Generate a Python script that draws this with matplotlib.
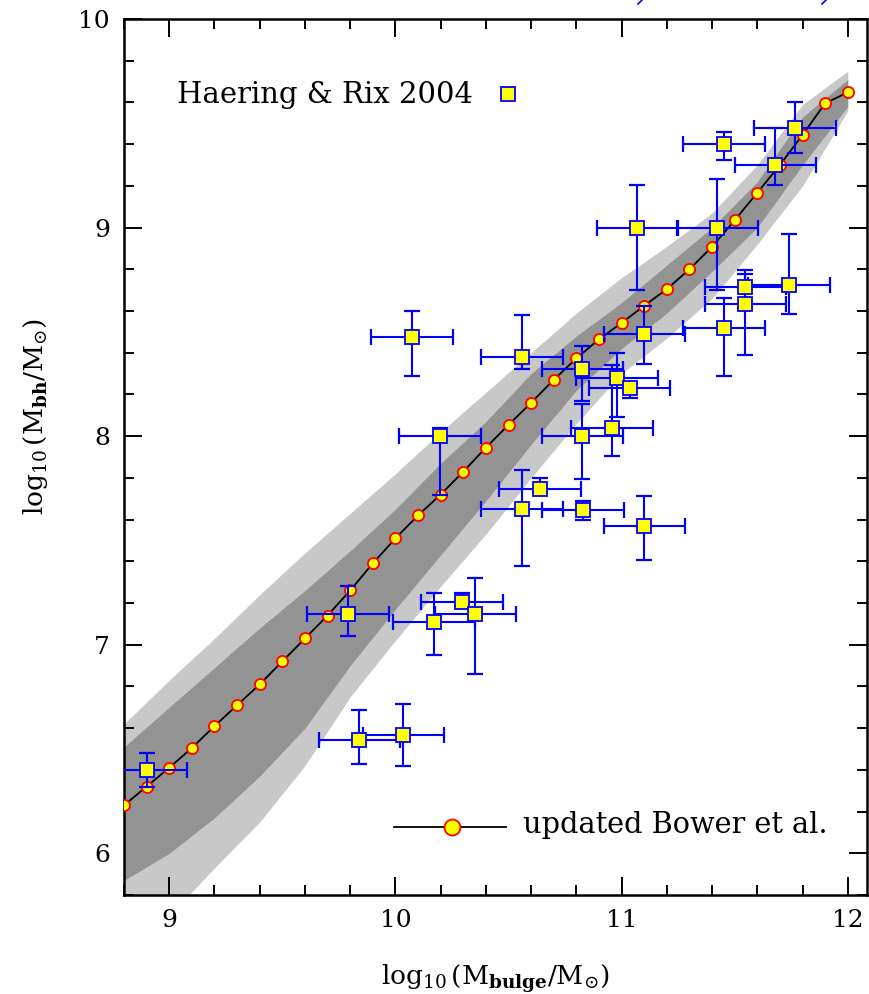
import matplotlib
matplotlib.use("Agg")
import matplotlib.pyplot as plt
from matplotlib.lines import Line2D
from matplotlib.ticker import MultipleLocator

# model: updated Bower et al. (median relation)
model_x = [8.8, 8.9, 9.0, 9.1, 9.2, 9.3, 9.4, 9.5, 9.6, 9.7, 9.8, 9.9, 10.0,
           10.1, 10.2, 10.3, 10.4, 10.5, 10.6, 10.7, 10.8, 10.9, 11.0, 11.1,
           11.2, 11.3, 11.4, 11.5, 11.6, 11.7, 11.8, 11.9, 12.0]
model_y = [6.23, 6.32, 6.41, 6.505, 6.61, 6.71, 6.81, 6.92, 7.03, 7.14, 7.26,
           7.39, 7.51, 7.62, 7.72, 7.83, 7.945, 8.054, 8.16, 8.27, 8.373,
           8.464, 8.543, 8.625, 8.705, 8.80, 8.908, 9.035, 9.167, 9.30,
           9.444, 9.596, 9.648]

# scatter bands of the model
band_x = [8.8, 9.0, 9.2, 9.4, 9.6, 9.8, 10.0, 10.2, 10.4, 10.6, 10.8, 11.0,
          11.2, 11.4, 11.6, 11.8, 12.0]
outer_hi = [6.62, 6.83, 7.03, 7.24, 7.44, 7.63, 7.82, 8.02, 8.21, 8.40, 8.59,
            8.76, 8.91, 9.07, 9.30, 9.59, 9.75]
inner_hi = [6.51, 6.70, 6.89, 7.08, 7.26, 7.45, 7.65, 7.87, 8.07, 8.30, 8.48,
            8.64, 8.82, 9.00, 9.22, 9.53, 9.71]
inner_lo = [5.87, 6.00, 6.17, 6.37, 6.60, 6.90, 7.17, 7.43, 7.69, 7.96, 8.22,
            8.42, 8.59, 8.79, 9.00, 9.30, 9.58]
outer_lo = [5.55, 5.70, 5.93, 6.15, 6.42, 6.75, 7.02, 7.28, 7.53, 7.80, 8.06,
            8.30, 8.47, 8.66, 8.92, 9.20, 9.56]

# Haering & Rix 2004
hr_x = [8.90, 9.79, 10.295, 10.17, 10.354, 9.84, 10.035, 10.074, 10.56,
        10.826, 10.826, 10.98, 11.035, 10.957, 11.10, 10.64, 10.56, 10.83,
        11.10, 10.198, 11.453, 11.767, 11.68, 11.423, 11.07, 11.547, 11.547,
        11.74, 11.453]
hr_y = [6.40, 7.145, 7.205, 7.11, 7.145, 6.545, 6.566, 8.476, 8.38, 8.32,
        8.00, 8.277, 8.23, 8.04, 8.49, 7.747, 7.653, 7.645, 7.57, 8.00, 9.40,
        9.479, 9.30, 9.00, 9.00, 8.716, 8.633, 8.724, 8.52]
hr_yerr_hi = [0.08, 0.135, 0.045, 0.14, 0.175, 0.14, 0.15, 0.124, 0.20, 0.11,
              0.153, 0.12, 0.026, 0.30, 0.135, 0.05, 0.187, 0.045, 0.144,
              0.04, 0.06, 0.121, 0.176, 0.231, 0.204, 0.08, 0.143, 0.243, 0.14]
hr_yerr_lo = [0.08, 0.105, 0.02, 0.16, 0.285, 0.115, 0.146, 0.19, 0.06, 0.15,
              0.206, 0.184, 0.046, 0.135, 0.146, 0.022, 0.277, 0.045, 0.165,
              0.28, 0.076, 0.123, 0.096, 0.30, 0.30, 0.10, 0.243, 0.14, 0.23]
hr_xerr = [0.18] * len(hr_x)

DARK = "#939393"
LIGHT = "#c8c8c8"

plt.rcParams["font.family"] = "DejaVu Serif"
plt.rcParams["mathtext.fontset"] = "dejavuserif"

fig = plt.figure(figsize=(8.69, 9.94), dpi=100)
ax = fig.add_axes([0.1427, 0.0996, 0.8550, 0.8813])

ax.fill_between(band_x, outer_lo, outer_hi, color=LIGHT, lw=0, zorder=1)
ax.fill_between(band_x, inner_lo, inner_hi, color=DARK, lw=0, zorder=2)

ax.plot(model_x, model_y, color="black", lw=1.3, zorder=3)
ax.plot(model_x, model_y, ls="none", marker="o", ms=8, mfc="yellow",
        mec="red", mew=1.3, zorder=3.5)

ax.errorbar(hr_x, hr_y, xerr=hr_xerr, yerr=[hr_yerr_lo, hr_yerr_hi],
            fmt="none", ecolor="blue", elinewidth=1.5, capsize=5.8,
            capthick=1.6, zorder=4)
ax.plot(hr_x, hr_y, ls="none", marker="s", ms=10.3, mfc="yellow", mec="blue",
        mew=1.3, zorder=5)

# legend entries drawn by hand, like the original
ax.text(10.345, 9.597, "Haering & Rix 2004", ha="right", va="baseline",
        fontsize=21)
ax.plot([10.496], [9.64], ls="none", marker="s", ms=10.3, mfc="yellow",
        mec="blue", mew=1.3, zorder=6)
ax.plot([9.995, 10.49], [6.126, 6.126], color="black", lw=1.3, zorder=6)
ax.plot([10.25], [6.126], ls="none", marker="o", ms=11.5, mfc="yellow",
        mec="red", mew=1.3, zorder=7)
ax.text(10.562, 6.096, "updated Bower et al.", ha="left", va="baseline",
        fontsize=20.7)

ax.set_xlim(8.8, 12.085)
ax.set_ylim(5.8, 10.0)
ax.xaxis.set_major_locator(MultipleLocator(1))
ax.xaxis.set_minor_locator(MultipleLocator(0.2))
ax.yaxis.set_major_locator(MultipleLocator(1))
ax.yaxis.set_minor_locator(MultipleLocator(0.2))
ax.tick_params(which="both", direction="in", top=True, right=True,
               width=1.4, labelsize=18)
ax.tick_params(which="major", length=13, pad=10)
ax.tick_params(which="minor", length=7)
for sp in ax.spines.values():
    sp.set_linewidth(1.8)

ax.set_xlabel(r"$\log_{10}(\mathrm{M}_{\mathbf{bulge}}/\mathrm{M}_{\odot})$",
              fontsize=19)
ax.set_ylabel(r"$\log_{10}(\mathrm{M}_{\mathbf{bh}}/\mathrm{M}_{\odot})$",
              fontsize=19)
ax.xaxis.set_label_coords(0.5, -0.077)
ax.yaxis.set_label_coords(-0.10, 0.546)

# clipped remains of a blue caption above the frame (only tails show)
for xp in (639, 823):
    fig.add_artist(Line2D([(xp + 3) / 869, (xp - 1) / 869],
                          [1.0, 1 - 4 / 994], color="blue", lw=1.2))

fig.savefig("out.png", dpi=100)
